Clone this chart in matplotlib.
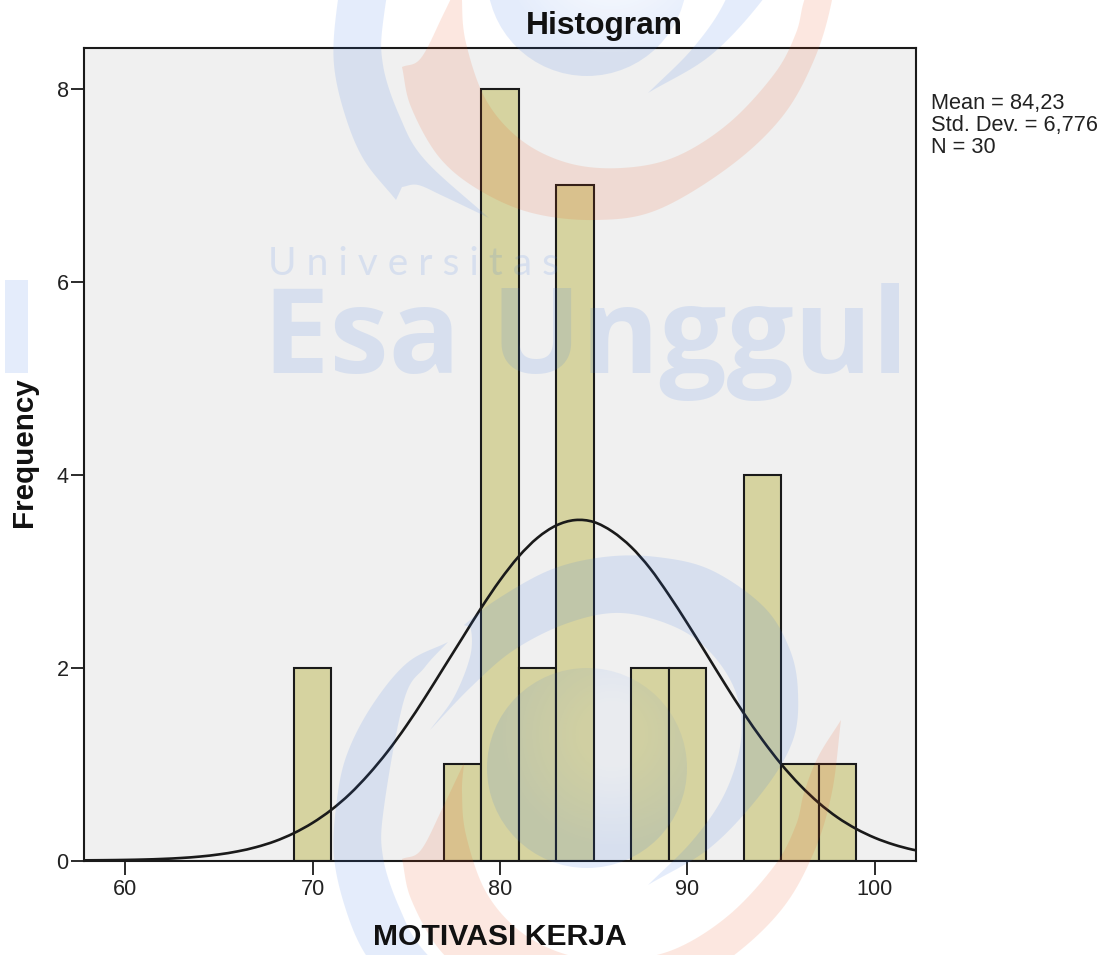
import numpy as np
import matplotlib
matplotlib.use("Agg")
import matplotlib.pyplot as plt
from matplotlib.patches import Polygon, Circle, Rectangle, PathPatch
from matplotlib.path import Path

plt.rcParams['font.family'] = ['Liberation Sans', 'DejaVu Sans']

# --- data ---
bin_lefts = [69, 77, 79, 81, 83, 87, 89, 93, 95, 97]
bin_counts = [2, 1, 8, 2, 7, 2, 2, 4, 1, 1]
bin_width = 2
curve_x = list(range(57, 104))
curve_y = [.001, .002, .0035, .0059, .0099, .0163, .0261, .0409, .063, .0945, .139, .2,
           .283, .39, .525, .692, .895, 1.129, 1.396, 1.69, 2.0, 2.31, 2.62, 2.906,
           3.153, 3.346, 3.474, 3.53, 3.51, 3.41, 3.25, 3.03, 2.756, 2.457, 2.145, 1.83,
           1.528, 1.25, .999, .782, .598, .447, .328, .235, .165, .113, .076]
x_ticks = [60, 70, 80, 90, 100]
y_ticks = [0, 2, 4, 6, 8]
stats_lines = ["Mean = 84,23", "Std. Dev. = 6,776", "N = 30"]
title_text = "Histogram"
x_label = "MOTIVASI KERJA"
y_label = "Frequency"

W, H = 1104, 955
fig = plt.figure(figsize=(W / 100, H / 100), dpi=100, facecolor='white')
L, R, T, B = 84, 916, 48, 860.5
ax = fig.add_axes([L / W, 1 - B / H, (R - L) / W, (B - T) / H], facecolor='#f0f0f0')

ink = '#1a1a1a'
ax.bar(bin_lefts, bin_counts, width=bin_width, align='edge', color='#d6d3a0',
       edgecolor=ink, linewidth=1.5, zorder=2)

# the read values joined by a smooth Bezier stroke
cx, cy = np.array(curve_x, float), np.array(curve_y, float)
verts, codes = [(cx[0], cy[0])], [Path.MOVETO]
slope = np.gradient(cy, cx)
for i in range(len(cx) - 1):
    h = (cx[i + 1] - cx[i]) / 3
    verts += [(cx[i] + h, cy[i] + slope[i] * h),
              (cx[i + 1] - h, cy[i + 1] - slope[i + 1] * h),
              (cx[i + 1], cy[i + 1])]
    codes += [Path.CURVE4] * 3
ax.add_patch(PathPatch(Path(verts, codes), facecolor='none', edgecolor=ink, linewidth=1.9, zorder=3))

ax.set_xlim(57.81, 102.19)
ax.set_ylim(0, 8.425)
ax.set_xticks(x_ticks)
ax.set_yticks(y_ticks)
ax.tick_params(axis='x', length=10, width=1.3, color=ink, labelsize=15.6, labelcolor='#222222', pad=3.5)
ax.tick_params(axis='y', length=9.5, width=1.3, color=ink, labelsize=15.6, labelcolor='#222222', pad=1.5)
for s in ax.spines.values():
    s.set_linewidth(1.5)
    s.set_color(ink)

# --- overlay in pixel coordinates ---
ov = fig.add_axes([0, 0, 1, 1], zorder=10, facecolor='none')
ov.set_xlim(0, W)
ov.set_ylim(H, 0)
ov.axis('off')


def smooth(pts, n=14):
    p = np.array(pts, float)
    p = np.vstack([2 * p[0] - p[1], p, 2 * p[-1] - p[-2]])
    out = []
    for i in range(1, len(p) - 2):
        for t in np.linspace(0, 1, n, endpoint=False):
            a, b, c, d = p[i - 1], p[i], p[i + 1], p[i + 2]
            out.append(0.5 * (2 * b + (c - a) * t + (2 * a - 5 * b + 4 * c - d) * t ** 2
                              + (3 * b - a - 3 * c + d) * t ** 3))
    out.append(p[-2])
    return np.array(out)


def shape(strokes):
    return np.vstack([smooth(s) for s in strokes])


BLUE = (0.2, 0.45, 0.9)
ORANGE = (0.933, 0.30, 0.067)
A = 0.13

ring = [
    [(430, 730), (471, 687), (514, 650), (568, 623), (621, 613), (675, 627), (711, 653), (736, 693),
     (741, 740), (725, 793), (693, 840), (648, 885)],
    [(648, 885), (711, 847), (764, 790), (793, 740), (798, 693), (790, 650), (764, 607), (711, 570),
     (657, 557), (604, 557), (550, 570), (496, 600), (464, 625)],
    [(464, 625), (471, 630), (470, 657), (454, 697), (430, 730)],
]
crescent = [
    [(448, 642), (407, 663), (371, 707), (346, 757), (336, 807), (334, 857), (345, 907), (364, 952), (396, 992)],
    [(396, 992), (402, 979)],
    [(402, 979), (418, 977), (443, 988), (489, 1010)],
    [(489, 1010), (425, 952), (400, 909), (383, 857), (384, 807), (404, 700), (425, 667), (448, 642)],
]
swoosh = [
    [(464, 763), (443, 807), (421, 850), (402, 859)],
    [(402, 859), (411, 899), (439, 949), (479, 982), (532, 1005), (596, 1012), (657, 1002), (729, 959),
     (782, 909), (814, 852), (832, 792), (841, 720)],
    [(841, 720), (818, 757), (804, 793), (796, 825), (775, 865), (729, 915), (675, 949), (621, 960),
     (568, 955), (521, 932), (486, 892), (466, 835), (462, 792), (464, 763)],
]
disk_c, disk_r, glow = (587, 768), 100, (612, 735)

for dy in (0, -792):
    for pts, col in ((ring, BLUE), (crescent, BLUE), (swoosh, ORANGE)):
        xy = shape(pts) + [0, dy]
        ov.add_patch(Polygon(xy, closed=True, facecolor=col, edgecolor='none', alpha=A))
    gx, gy = np.meshgrid(np.arange(disk_c[0] - 102, disk_c[0] + 102) + .5,
                         np.arange(disk_c[1] - 102, disk_c[1] + 102) + .5)
    dist = np.hypot(gx - glow[0], gy - glow[1])
    rgba = np.zeros(gx.shape + (4,))
    rgba[..., :3] = BLUE
    rgba[..., 3] = A * np.clip(dist / 110, 0.3, 1)
    im = ov.imshow(rgba, extent=(disk_c[0] - 102, disk_c[0] + 102, disk_c[1] + 102 + dy, disk_c[1] - 102 + dy),
                   aspect='auto', interpolation='bilinear')
    im.set_clip_path(Circle((disk_c[0], disk_c[1] + dy), disk_r, transform=ov.transData))
ov.set_xlim(0, W)
ov.set_ylim(H, 0)

ov.add_patch(Rectangle((5, 280), 23, 93, facecolor=BLUE, edgecolor='none', alpha=A))
ov.text(263, 373, "Esa Unggul", family='Open Sans', weight='bold', fontsize=85.6, color=BLUE, alpha=A,
        ha='left', va='baseline')
ov.text(268, 275, "U n i v e r s i t a s", family='Lato', fontsize=28, color=BLUE, alpha=A,
        ha='left', va='baseline')

# --- chart text ---
ov.text(604, 26, title_text, fontsize=22.9, weight='bold', color='#111111', ha='center', va='center')
ov.text(500, 937, x_label, fontsize=21.7, weight='bold', color='#111111', ha='center', va='center')
ov.text(24, 452.5, y_label, fontsize=21.3, weight='bold', color='#111111', ha='center', va='center', rotation=90)
for line, y in zip(stats_lines, [104, 125.5, 147.5]):
    ov.text(931, y, line, fontsize=15.7, color='#222222', ha='left', va='center')

fig.savefig('out.png', dpi=100, facecolor='white')
